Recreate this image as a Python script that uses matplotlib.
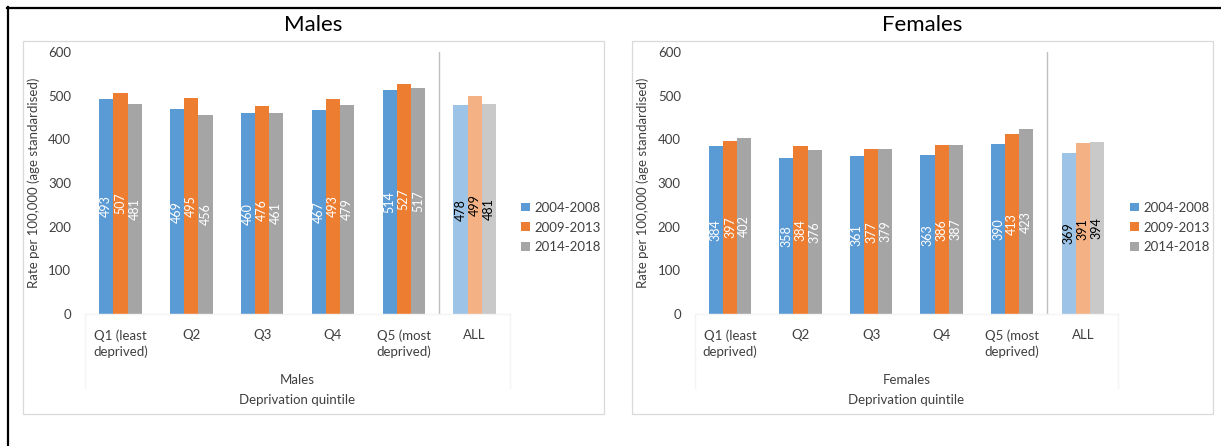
import matplotlib
matplotlib.use("Agg")
import matplotlib.pyplot as plt
from matplotlib.patches import Rectangle
from matplotlib.lines import Line2D
import numpy as np

plt.rcParams['font.family'] = ['Lato', 'DejaVu Sans']

categories = ["Q1 (least\ndeprived)", "Q2", "Q3", "Q4", "Q5 (most\ndeprived)", "ALL"]
periods = ["2004-2008", "2009-2013", "2014-2018"]

males_2004_2008 = [493, 469, 460, 467, 514, 478]
males_2009_2013 = [507, 495, 476, 493, 527, 499]
males_2014_2018 = [481, 456, 461, 479, 517, 481]

females_2004_2008 = [384, 358, 361, 363, 390, 369]
females_2009_2013 = [397, 384, 377, 386, 413, 391]
females_2014_2018 = [402, 376, 379, 387, 423, 394]

yticks = [0, 100, 200, 300, 400, 500, 600]

base_colors = ["#5B9BD5", "#ED7D31", "#A5A5A5"]
all_colors = ["#9DC3E6", "#F4B183", "#C9C9C9"]
text_col = "#404040"

W, H = 1221, 446
fig = plt.figure(figsize=(W / 100, H / 100), dpi=100)


def fx(px):
    return px / W


def fy(py):
    return 1 - py / H


# outer black frame (top and left edges)
fig.add_artist(Line2D([fx(7), 1.0], [fy(7.5), fy(7.5)], color="black", lw=1.6))
fig.add_artist(Line2D([fx(8), fx(8)], [fy(7), 0.0], color="black", lw=1.6))


def panel(box, ax_left, ax_right, title, series, ylabel_x, legend_x):
    # light chart-area frame
    x0, x1 = box
    fig.add_artist(Rectangle((fx(x0), fy(414)), fx(x1 - x0), (414 - 40.7) / H,
                             fill=False, edgecolor="#D9D9D9", lw=0.9))
    fig.text(fx((x0 + x1) / 2), fy(25), title, ha="center", va="center",
             fontsize=16, color="black")

    ax = fig.add_axes([fx(ax_left), fy(314), fx(ax_right - ax_left), 262 / H])
    n = len(categories)
    x = np.arange(n)
    width = 0.2
    for k, vals in enumerate(series):
        cols = [base_colors[k]] * (n - 1) + [all_colors[k]]
        pos = x + (k - 1) * width
        bars = ax.bar(pos, vals, width=width, color=cols, label=periods[k])
        for i, (b, v) in enumerate(zip(bars, vals)):
            ax.text(b.get_x() + b.get_width() / 2, v / 2, str(v),
                    rotation=90, ha="center", va="center", fontsize=9,
                    color="black" if i == n - 1 else "white")

    ax.axvline(n - 1.5, color="#BFBFBF", lw=1)
    ax.set_xlim(-0.5, n - 0.5)
    ax.set_ylim(0, 600)
    ax.set_yticks(yticks)
    ax.set_xticks(x)
    ax.set_xticklabels(categories, fontsize=9.5, color=text_col, linespacing=1.35)
    ax.tick_params(axis="both", length=0, labelsize=9.5, labelcolor=text_col)
    ax.tick_params(axis="y", pad=10)
    ax.tick_params(axis="x", pad=11)
    for s in ax.spines.values():
        s.set_visible(False)

    ax.set_ylabel("Rate per 100,000 (age standardised)", fontsize=9.5, color=text_col)
    ax.yaxis.set_label_coords((ylabel_x - ax_left) / (ax_right - ax_left), 0.5)

    # faint category-axis frame
    depth = -74 / 262
    for xa in (0, 1):
        ax.add_line(Line2D([xa, xa], [0, depth], transform=ax.transAxes,
                           color="#F4F4F4", lw=1, clip_on=False))
    ax.add_line(Line2D([0, 1], [0, 0], transform=ax.transAxes,
                       color="#F4F4F4", lw=1, clip_on=False))

    ax.text(0.5, (314 - 380) / 262, title, transform=ax.transAxes,
            ha="center", va="center", fontsize=9.5, color=text_col)
    ax.text(0.5, (314 - 400) / 262, "Deprivation quintile", transform=ax.transAxes,
            ha="center", va="center", fontsize=9.5, color=text_col)

    ax.legend(loc="center left",
              bbox_to_anchor=((legend_x - ax_left) / (ax_right - ax_left), (314 - 227.5) / 262),
              frameon=False, fontsize=9.5, handlelength=0.65, handleheight=0.65,
              handletextpad=0.4, labelspacing=0.6, borderaxespad=0, borderpad=0,
              labelcolor=text_col)
    return ax


panel((22.5, 604), 85, 510, "Males",
      [males_2004_2008, males_2009_2013, males_2014_2018], 39.5, 521)
panel((631.5, 1213), 694.7, 1118, "Females",
      [females_2004_2008, females_2009_2013, females_2014_2018], 649, 1130)

fig.savefig("out.png", dpi=100)
